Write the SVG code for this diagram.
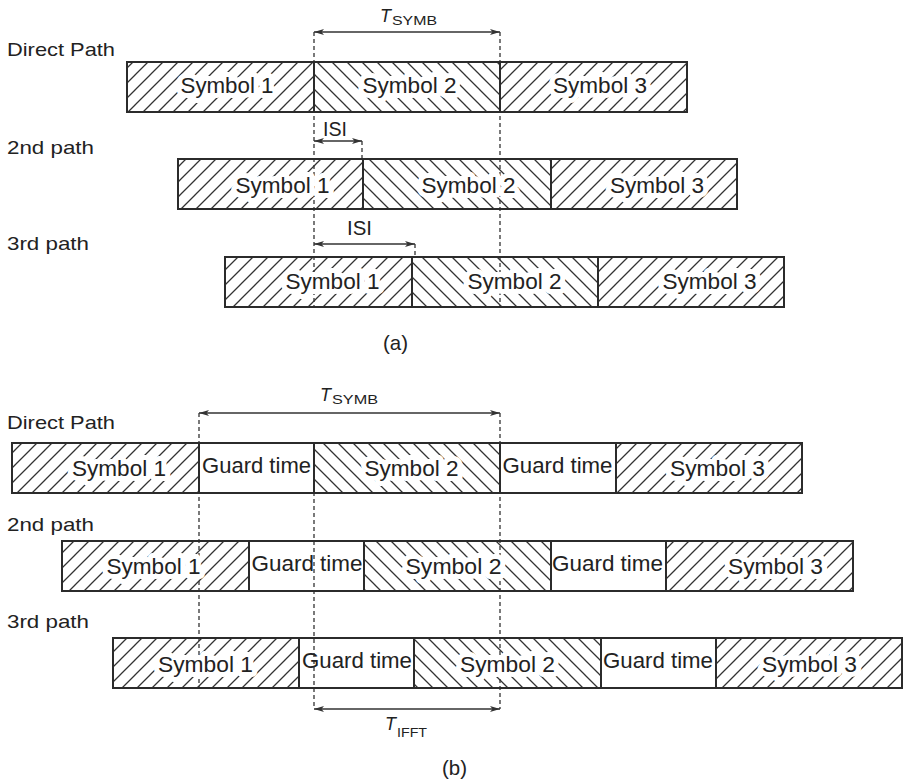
<svg xmlns="http://www.w3.org/2000/svg" width="903" height="781" viewBox="0 0 903 781">
<style>
text{font-family:"Liberation Sans",Arial,sans-serif;fill:#222}
.blk rect{stroke:#2b2b2b;stroke-width:2}
.fw{fill:url(#hf)}
.bw{fill:url(#hb)}
.g{fill:none}
.sym{font-size:21.5px;text-anchor:middle;stroke:#fff;stroke-width:10;stroke-linejoin:round;paint-order:stroke}
.gt{font-size:21.5px;text-anchor:middle}
.lbl{font-size:19px}
.cap{font-size:21px;text-anchor:middle}
.dash{stroke:#333;stroke-width:1.3;stroke-dasharray:4 3;fill:none}
.arr{stroke:#333;stroke-width:1.5;fill:none;marker-start:url(#ah);marker-end:url(#ah)}
.T{font-size:18px;font-style:italic}
.sub{font-size:13px}
</style>
<defs>
<pattern id="hf" width="15" height="15" patternUnits="userSpaceOnUse">
<path d="M0,15 L15,0 M-2,2 L2,-2 M13,17 L17,13" stroke="#333" stroke-width="1.3" fill="none"/>
</pattern>
<pattern id="hb" width="15" height="15" patternUnits="userSpaceOnUse">
<path d="M0,0 L15,15 M13,-2 L17,2 M-2,13 L2,17" stroke="#333" stroke-width="1.3" fill="none"/>
</pattern>
<marker id="ah" markerUnits="userSpaceOnUse" markerWidth="10" markerHeight="8" refX="10" refY="4" orient="auto-start-reverse">
<path d="M0,1 L10,4 L0,7 L2.5,4 Z" fill="#333"/>
</marker>
</defs>

<g id="connectors">
<line class="dash" x1="314" y1="32" x2="314" y2="307"/>
<line class="dash" x1="500" y1="32" x2="500" y2="307"/>
<line class="dash" x1="362" y1="141" x2="362" y2="159"/>
<line class="dash" x1="415" y1="244" x2="415" y2="257"/>
<line class="arr" x1="314" y1="32" x2="500" y2="32"/>
<line class="arr" x1="314" y1="141" x2="362" y2="141"/>
<line class="arr" x1="314" y1="244" x2="415" y2="244"/>
<line class="dash" x1="199" y1="413" x2="199" y2="688"/>
<line class="dash" x1="314" y1="443" x2="314" y2="709"/>
<line class="dash" x1="500" y1="413" x2="500" y2="709"/>
<line class="arr" x1="199" y1="413" x2="500" y2="413"/>
<line class="arr" x1="314" y1="709" x2="500" y2="709"/>
</g>

<g id="labels-a">
<text class="lbl" x="7" y="56" textLength="108" lengthAdjust="spacingAndGlyphs">Direct Path</text>
<text class="lbl" x="7" y="154" textLength="87" lengthAdjust="spacingAndGlyphs">2nd path</text>
<text class="lbl" x="7" y="250" textLength="82" lengthAdjust="spacingAndGlyphs">3rd path</text>
<text class="T" x="380" y="22">T</text>
<text class="sub" x="392" y="25" textLength="45" lengthAdjust="spacingAndGlyphs">SYMB</text>
<text style="font-size:20.5px" x="323" y="136" textLength="24" lengthAdjust="spacingAndGlyphs">ISI</text>
<text style="font-size:20.5px" x="347" y="235" textLength="25" lengthAdjust="spacingAndGlyphs">ISI</text>
<text class="cap" x="395.5" y="350" textLength="25" lengthAdjust="spacingAndGlyphs">(a)</text>
</g>

<g class="blk">
<g id="a-direct-s1"><rect class="fw" x="127" y="62" width="187" height="50"/><text class="sym" x="227" y="93" textLength="93" lengthAdjust="spacingAndGlyphs">Symbol 1</text></g>
<g id="a-direct-s2"><rect class="bw" x="314" y="62" width="186" height="50"/><text class="sym" x="409.5" y="93" textLength="94" lengthAdjust="spacingAndGlyphs">Symbol 2</text></g>
<g id="a-direct-s3"><rect class="fw" x="500" y="62" width="187" height="50"/><text class="sym" x="600" y="93" textLength="94" lengthAdjust="spacingAndGlyphs">Symbol 3</text></g>

<g id="a-2nd-s1"><rect class="fw" x="178" y="159" width="185" height="50"/><text class="sym" x="282.5" y="193" textLength="94" lengthAdjust="spacingAndGlyphs">Symbol 1</text></g>
<g id="a-2nd-s2"><rect class="bw" x="363" y="159" width="188" height="50"/><text class="sym" x="468.5" y="193" textLength="94" lengthAdjust="spacingAndGlyphs">Symbol 2</text></g>
<g id="a-2nd-s3"><rect class="fw" x="551" y="159" width="186" height="50"/><text class="sym" x="657" y="193" textLength="94" lengthAdjust="spacingAndGlyphs">Symbol 3</text></g>

<g id="a-3rd-s1"><rect class="fw" x="225" y="257" width="187" height="50"/><text class="sym" x="332.5" y="289" textLength="94" lengthAdjust="spacingAndGlyphs">Symbol 1</text></g>
<g id="a-3rd-s2"><rect class="bw" x="412" y="257" width="186" height="50"/><text class="sym" x="514.5" y="289" textLength="94" lengthAdjust="spacingAndGlyphs">Symbol 2</text></g>
<g id="a-3rd-s3"><rect class="fw" x="598" y="257" width="186" height="50"/><text class="sym" x="709.5" y="289" textLength="94" lengthAdjust="spacingAndGlyphs">Symbol 3</text></g>

<g id="b-direct-s1"><rect class="fw" x="12" y="443" width="187" height="50"/><text class="sym" x="119" y="476" textLength="94" lengthAdjust="spacingAndGlyphs">Symbol 1</text></g>
<g id="b-direct-g1"><rect class="g" x="199" y="443" width="115" height="50"/><text class="gt" x="256.5" y="473" textLength="109" lengthAdjust="spacingAndGlyphs">Guard time</text></g>
<g id="b-direct-s2"><rect class="bw" x="314" y="443" width="186" height="50"/><text class="sym" x="411.5" y="476" textLength="94" lengthAdjust="spacingAndGlyphs">Symbol 2</text></g>
<g id="b-direct-g2"><rect class="g" x="500" y="443" width="116" height="50"/><text class="gt" x="557.5" y="473" textLength="110" lengthAdjust="spacingAndGlyphs">Guard time</text></g>
<g id="b-direct-s3"><rect class="fw" x="616" y="443" width="186" height="50"/><text class="sym" x="717.5" y="476" textLength="95" lengthAdjust="spacingAndGlyphs">Symbol 3</text></g>

<g id="b-2nd-s1"><rect class="fw" x="62" y="541" width="187" height="50"/><text class="sym" x="153.5" y="574" textLength="94" lengthAdjust="spacingAndGlyphs">Symbol 1</text></g>
<g id="b-2nd-g1"><rect class="g" x="249" y="541" width="115" height="50"/><text class="gt" x="307" y="571" textLength="111" lengthAdjust="spacingAndGlyphs">Guard time</text></g>
<g id="b-2nd-s2"><rect class="bw" x="364" y="541" width="187" height="50"/><text class="sym" x="453.5" y="574" textLength="96" lengthAdjust="spacingAndGlyphs">Symbol 2</text></g>
<g id="b-2nd-g2"><rect class="g" x="551" y="541" width="115" height="50"/><text class="gt" x="607.5" y="571" textLength="111" lengthAdjust="spacingAndGlyphs">Guard time</text></g>
<g id="b-2nd-s3"><rect class="fw" x="666" y="541" width="187" height="50"/><text class="sym" x="775.5" y="574" textLength="95" lengthAdjust="spacingAndGlyphs">Symbol 3</text></g>

<g id="b-3rd-s1"><rect class="fw" x="113" y="638" width="186" height="50"/><text class="sym" x="205.5" y="672" textLength="95" lengthAdjust="spacingAndGlyphs">Symbol 1</text></g>
<g id="b-3rd-g1"><rect class="g" x="299" y="638" width="115" height="50"/><text class="gt" x="357" y="668" textLength="110" lengthAdjust="spacingAndGlyphs">Guard time</text></g>
<g id="b-3rd-s2"><rect class="bw" x="414" y="638" width="187" height="50"/><text class="sym" x="507.5" y="672" textLength="95" lengthAdjust="spacingAndGlyphs">Symbol 2</text></g>
<g id="b-3rd-g2"><rect class="g" x="601" y="638" width="115" height="50"/><text class="gt" x="658" y="668" textLength="110" lengthAdjust="spacingAndGlyphs">Guard time</text></g>
<g id="b-3rd-s3"><rect class="fw" x="716" y="638" width="186" height="50"/><text class="sym" x="809.5" y="672" textLength="95" lengthAdjust="spacingAndGlyphs">Symbol 3</text></g>
</g>

<g id="labels-b">
<text class="lbl" x="7" y="429" textLength="108" lengthAdjust="spacingAndGlyphs">Direct Path</text>
<text class="lbl" x="7" y="531" textLength="87" lengthAdjust="spacingAndGlyphs">2nd path</text>
<text class="lbl" x="7" y="628" textLength="82" lengthAdjust="spacingAndGlyphs">3rd path</text>
<text class="T" x="320" y="401">T</text>
<text class="sub" x="332" y="404" textLength="46" lengthAdjust="spacingAndGlyphs">SYMB</text>
<text class="T" x="385" y="730">T</text>
<text class="sub" x="397" y="737" textLength="30" lengthAdjust="spacingAndGlyphs">IFFT</text>
<text class="cap" x="454.5" y="775" textLength="25" lengthAdjust="spacingAndGlyphs">(b)</text>
</g>
</svg>
